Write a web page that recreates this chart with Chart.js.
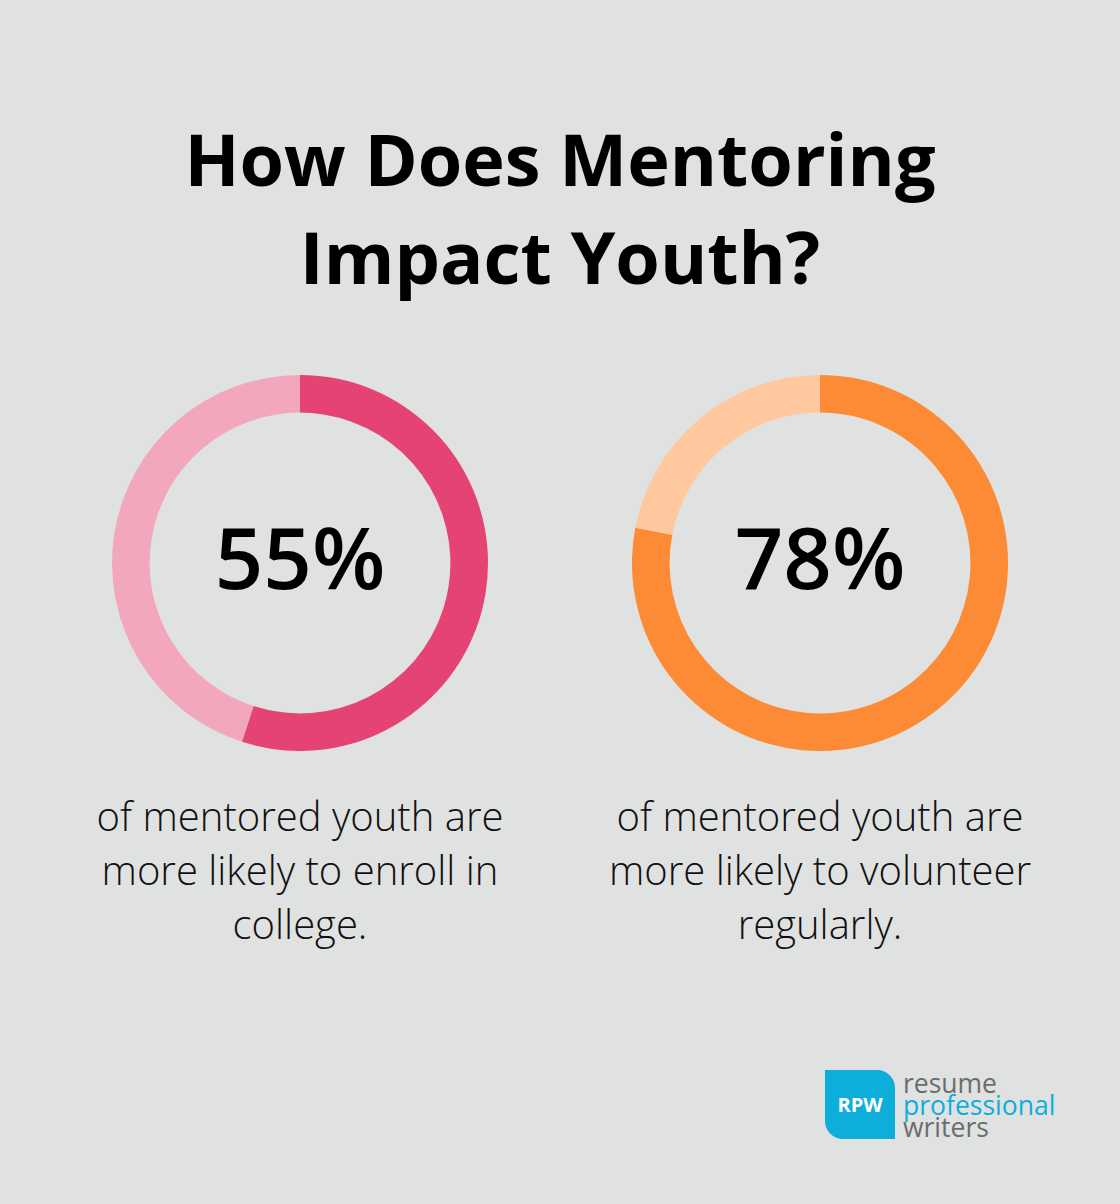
<!DOCTYPE html>
<html>
<head>
<meta charset="utf-8">
<script src="https://cdn.jsdelivr.net/npm/chart.js@4.4.1/dist/chart.umd.min.js"></script>
<style>
  html, body { margin: 0; padding: 0; }
  body {
    width: 1120px; height: 1204px; background: #e0e2e1;
    position: relative; overflow: hidden;
    font-family: "Open Sans", sans-serif; color: #000;
  }
  .title {
    position: absolute; left: 0; top: 109px; width: 1120px;
    text-align: center; font-weight: 700; font-size: 72px; line-height: 98px;
  }
  .donut { position: absolute; width: 376px; height: 376px; top: 375px; }
  .pct {
    position: absolute; width: 376px; top: 368px; height: 376px;
    display: flex; align-items: center; justify-content: center;
    font-size: 85px; font-weight: 600; pointer-events: none;
  }
  .desc {
    position: absolute; top: 789px; width: 520px;
    text-align: center; font-size: 40px; font-weight: 300; line-height: 54px; color: #111;
  }
  .logo { position: absolute; left: 825px; top: 1070px; }
  .logo .box {
    position: absolute; left: 0; top: 0; width: 70px; height: 69px;
    background: #0eaedb; border-radius: 0 18px 0 18px;
    color: #fff; font-weight: 700; font-size: 20px; line-height: 69px; text-align: center;
  }
  .logo .txt {
    position: absolute; left: 78px; top: 2px; font-size: 26.5px; line-height: 22px;
    font-weight: 500; white-space: nowrap;
  }
</style>
</head>
<body>
<div class="title">How Does Mentoring<br>Impact Youth?</div>

<div class="donut" style="left:112px"><canvas id="chart0"></canvas></div>
<div class="donut" style="left:632px"><canvas id="chart1"></canvas></div>
<div class="pct" id="pct0" style="left:112px"></div>
<div class="pct" id="pct1" style="left:632px"></div>
<div class="desc" id="desc0" style="left:40px"></div>
<div class="desc" id="desc1" style="left:560px"></div>

<div class="logo">
  <div class="box">RPW</div>
  <div class="txt">
    <div style="color:#6b6c6e">resume</div>
    <div style="color:#0eaedb">professional</div>
    <div style="color:#6b6c6e">writers</div>
  </div>
</div>

<script>
const percents = [55, 78];
const captions = [
  "of mentored youth are<br>more likely to enroll in<br>college.",
  "of mentored youth are<br>more likely to volunteer<br>regularly."
];
const mainColors = ["#e44373", "#fd8b35"];
const restColors = ["#f2a7bd", "#ffc89e"];

percents.forEach((p, i) => {
  document.getElementById("pct" + i).textContent = p + "%";
  document.getElementById("desc" + i).innerHTML = captions[i];
  new Chart(document.getElementById("chart" + i), {
    type: "doughnut",
    data: {
      labels: ["share", "rest"],
      datasets: [{
        data: [p, 100 - p],
        backgroundColor: [mainColors[i], restColors[i]],
        borderWidth: 0
      }]
    },
    options: {
      responsive: true,
      maintainAspectRatio: false,
      animation: false,
      cutout: "80%",
      layout: { padding: 0 },
      plugins: { legend: { display: false }, tooltip: { enabled: false } }
    }
  });
});
</script>
</body>
</html>
